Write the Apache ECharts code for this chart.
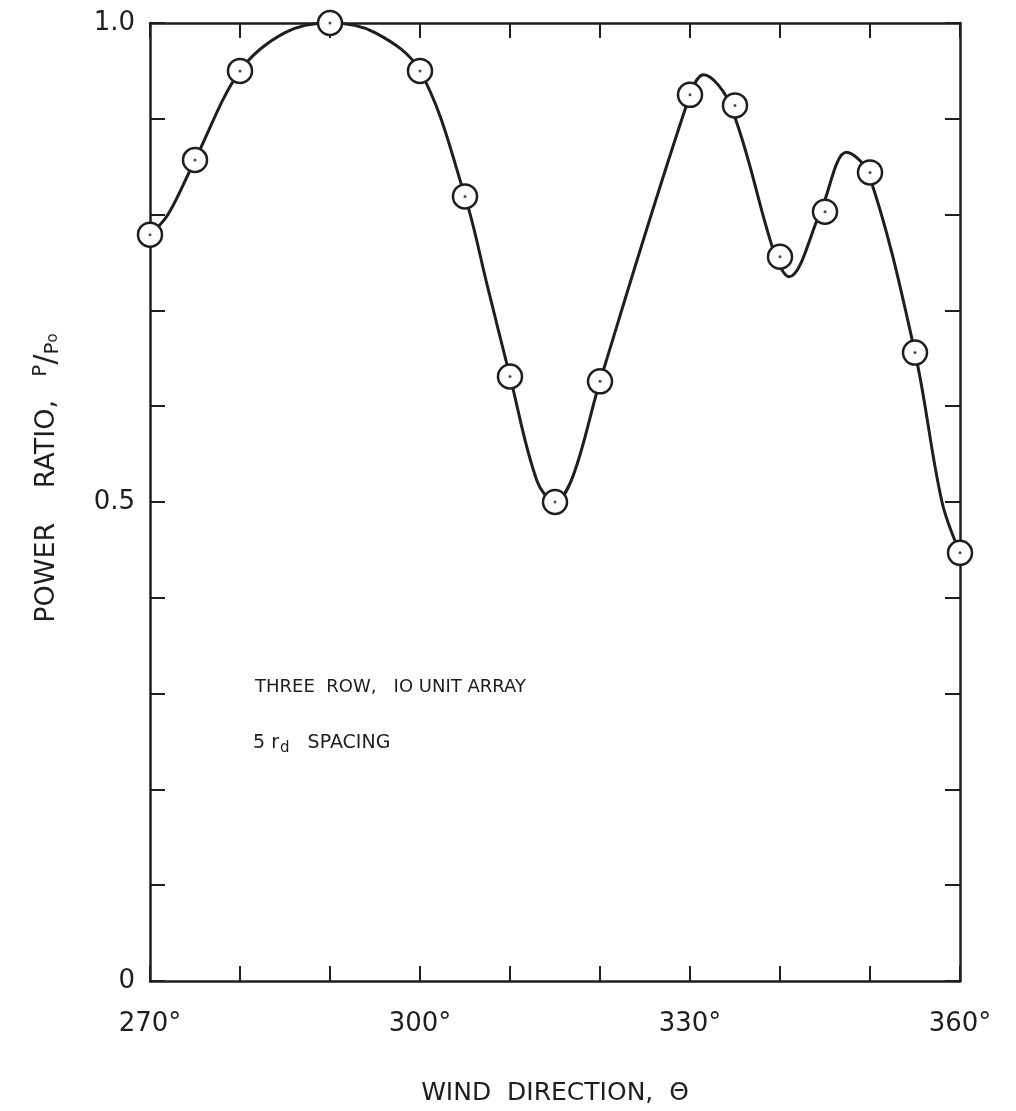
<!DOCTYPE html>
<html>
<head>
<meta charset="utf-8">
<script src="https://cdn.jsdelivr.net/npm/echarts@6/dist/echarts.min.js"></script>
<style>
  html, body { margin: 0; padding: 0; background: #fff; }
  #chart { width: 1016px; height: 1111px; }
</style>
</head>
<body>
<div id="chart"></div>
<script>
// measured points (wind direction in degrees, power ratio P/Po)
const directions = [270, 275, 280, 290, 300, 305, 310, 315, 320, 330, 335, 340, 345, 350, 355, 360];
const powerRatio = [0.779, 0.857, 0.95, 1.0, 0.95, 0.819, 0.631, 0.5, 0.626, 0.925, 0.914, 0.756, 0.803, 0.844, 0.656, 0.447];

// faired curve drawn through the points
const curveDirs = [270, 272, 275, 280, 285, 290, 295, 300, 305, 307.5, 310, 313, 315, 317, 320, 330, 331.5, 334.5, 339.5, 341, 344.5, 347.4, 349.8, 355, 358, 360];
const curveVals = [0.779, 0.80, 0.857, 0.95, 0.99, 1.0, 0.99, 0.95, 0.819, 0.725, 0.631, 0.522, 0.5, 0.527, 0.626, 0.925, 0.946, 0.914, 0.756, 0.735, 0.803, 0.865, 0.844, 0.656, 0.50, 0.447];

const xLabels = [270, 300, 330, 360];
const yLabels = [0, 0.5, 1.0];

const ink = '#1e1e1e';
const font = 'DejaVu Sans';

const chart = echarts.init(document.getElementById('chart'), null, { renderer: 'canvas' });

const pair = (xs, ys) => xs.map((x, i) => [x, ys[i]]);

const baseX = {
  type: 'value', min: 270, max: 360, interval: 10,
  axisLine: { show: true, onZero: false, lineStyle: { color: ink, width: 2.5 } },
  axisTick: { show: true, inside: true, length: 15, lineStyle: { color: ink, width: 2 } },
  splitLine: { show: false }
};
const baseY = {
  type: 'value', min: 0, max: 1, interval: 0.1,
  axisLine: { show: true, onZero: false, lineStyle: { color: ink, width: 2.5 } },
  axisTick: { show: true, inside: true, length: 15, lineStyle: { color: ink, width: 2 } },
  splitLine: { show: false }
};

chart.setOption({
  backgroundColor: '#fff',
  animation: false,
  grid: { left: 150, right: 56, top: 23, bottom: 128 },
  xAxis: [
    Object.assign({}, baseX, {
      position: 'bottom',
      axisLabel: {
        margin: 30, color: ink, fontFamily: font, fontSize: 26,
        formatter: v => xLabels.includes(v) ? v + '°' : ''
      },
      name: 'WIND  DIRECTION,  Θ',
      nameLocation: 'middle', nameGap: 100,
      nameTextStyle: { color: ink, fontFamily: font, fontSize: 25 }
    }),
    Object.assign({}, baseX, { position: 'top', axisLabel: { show: false } })
  ],
  yAxis: [
    Object.assign({}, baseY, {
      position: 'left',
      axisLabel: {
        margin: 15, color: ink, fontFamily: font, fontSize: 26,
        formatter: v => {
          const hit = yLabels.find(t => Math.abs(t - v) < 1e-6);
          if (hit === undefined) return '';
          return hit === 0 ? '0' : hit.toFixed(1);
        }
      }
    }),
    Object.assign({}, baseY, { position: 'right', axisLabel: { show: false } })
  ],
  graphic: [
    {
      type: 'text', x: 47, y: 478, rotation: Math.PI / 2,
      style: {
        text: '{t|POWER    RATIO,}       {p|P}{s|/}{o|P}{z|o}',
        align: 'center', verticalAlign: 'middle', fill: ink,
        rich: {
          t: { fontFamily: font, fontSize: 27, fill: ink },
          p: { fontFamily: font, fontSize: 20, fill: ink, padding: [0, 0, 12, 0] },
          s: { fontFamily: font, fontSize: 30, fill: ink },
          o: { fontFamily: font, fontSize: 20, fill: ink, padding: [12, 0, 0, 0] },
          z: { fontFamily: font, fontSize: 15, fill: ink, padding: [12, 0, 0, 0] }
        }
      }
    },
    {
      type: 'text', left: 255, top: 678,
      style: { text: 'THREE  ROW,   IO UNIT ARRAY', fontFamily: font, fontSize: 18, fill: ink }
    },
    {
      type: 'text', left: 253, top: 734,
      style: {
        text: '{n|5 r}{d|d}{n|   SPACING}', fill: ink,
        rich: {
          n: { fontFamily: font, fontSize: 19, fill: ink },
          d: { fontFamily: font, fontSize: 15, fill: ink, padding: [10, 0, 0, 1] }
        }
      }
    }
  ],
  series: [
    {
      type: 'line', xAxisIndex: 0, yAxisIndex: 0,
      data: pair(curveDirs, curveVals),
      smooth: 0.35, showSymbol: false, silent: true,
      lineStyle: { color: ink, width: 3 }, z: 2
    },
    {
      type: 'scatter', xAxisIndex: 0, yAxisIndex: 0,
      data: pair(directions, powerRatio),
      symbol: 'circle', symbolSize: 24,
      itemStyle: { color: '#fff', borderColor: ink, borderWidth: 2.5, opacity: 1 }, z: 3
    },
    {
      type: 'scatter', xAxisIndex: 0, yAxisIndex: 0,
      data: pair(directions, powerRatio),
      symbol: 'circle', symbolSize: 3,
      itemStyle: { color: ink }, z: 4
    }
  ]
});
</script>
</body>
</html>
